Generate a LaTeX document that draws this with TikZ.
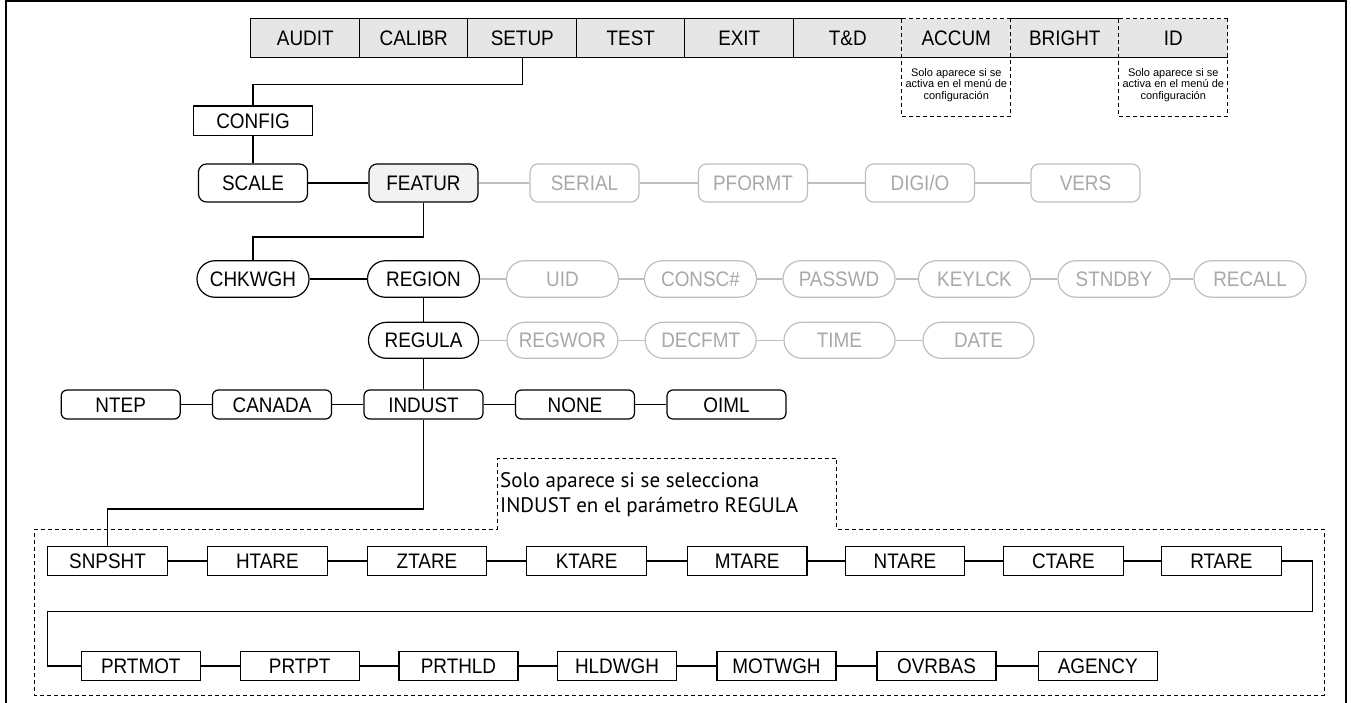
\documentclass[tikz,border=0pt]{standalone}
\usepackage{fontspec}
\setmainfont{Liberation Sans}
\newfontfamily\lblfont{Liberation Sans}[FakeStretch=0.9]
\newfontfamily\notefont{PT Sans}
\usetikzlibrary{calc}
\definecolor{barfill}{HTML}{E6E6E6}
\definecolor{featfill}{HTML}{F2F2F2}
\definecolor{gtext}{HTML}{A8A8A8}
\definecolor{gline}{HTML}{BEBEBE}
\begin{document}
\begin{tikzpicture}[x=1pt,y=-1pt,
  lbl/.style={inner sep=0pt, font=\lblfont\fontsize{21}{24}\selectfont, text height=15pt, text depth=0pt},
  barbox/.style={lbl, fill=barfill, minimum width=108.5pt, minimum height=38pt},
  sq/.style={lbl, draw, line width=1.2pt, fill=white, minimum width=119.5pt, minimum height=29pt},
  rr/.style={lbl, draw, line width=1.2pt, rounded corners=8pt, minimum width=109pt, minimum height=38pt},
  pill/.style={lbl, draw, line width=1.2pt, rounded corners=18pt, minimum width=112pt, minimum height=36.5pt},
  rs/.style={lbl, draw, line width=1.2pt, rounded corners=6pt, minimum width=119pt, minimum height=29pt},
  off/.style={draw=gline, text=gtext},
  thickc/.style={line width=1.8pt},
  thinc/.style={line width=1.2pt},
  grayc/.style={line width=1.5pt, draw=gline},
  dsh/.style={line width=1pt, dash pattern=on 4pt off 3pt},
  notetxt/.style={inner sep=0pt, align=center, font=\fontsize{11}{11.5}\selectfont}
]
\useasboundingbox (0,0) rectangle (1351,703);
% frame
\draw[line width=2pt] (6,703) -- (6,1) -- (1346,1) -- (1346,703);

% top bar
\node[barbox] (audit)  at (305.25,38) {AUDIT};
\node[barbox] (calibr) at (413.75,38) {CALIBR};
\node[barbox] (setup)  at (522.25,38) {SETUP};
\node[barbox] (test)   at (630.75,38) {TEST};
\node[barbox] (exit)   at (739.25,38) {EXIT};
\node[barbox] (tnd)    at (847.75,38) {T\&D};
\node[barbox] (accum)  at (956.25,38) {ACCUM};
\node[barbox] (bright) at (1064.75,38) {BRIGHT};
\node[barbox] (id)     at (1173.25,38) {ID};
\draw[line width=1.2pt] (accum.north west) -- (audit.north west) -- (audit.south west) -- (id.south east);
\draw[line width=1.2pt] (bright.north west) -- (bright.north east);
\foreach \n in {calibr,setup,test,exit,tnd}
  \draw[line width=1.2pt] (\n.north west) -- (\n.south west);
\foreach \n in {accum,id}{
  \draw[dsh] (\n.north west) -- (\n.north east);
  \draw[dsh] (\n.north west) -- (\n.north west |- 0,116.5) -- (\n.north east |- 0,116.5) -- (\n.north east);
}
\node[notetxt] (note1) at (956.25,85) {Solo aparece si se\\activa en el menú de\\configuración};
\node[notetxt] (note2) at (1173.25,85) {Solo aparece si se\\activa en el menú de\\configuración};

% config
\node[sq, minimum height=29.3pt] (config) at (253,120.7) {CONFIG};
\coordinate (j1) at (400,84.3);
\draw[thinc] (setup.south) |- (j1) -| (config.north);

% row 2
\node[rr] (scale)  at (253,183) {SCALE};
\node[rr, fill=featfill] (featur) at (423.5,183) {FEATUR};
\node[rr, off] (serial) at (584.5,183) {SERIAL};
\node[rr, off] (pformt) at (753,183) {PFORMT};
\node[rr, off] (digio)  at (920,183) {DIGI/O};
\node[rr, off] (vers)   at (1085.5,183) {VERS};
\draw[thickc] (config.south) -- (scale.north);
\draw[thickc] (scale) -- (featur);
\draw[grayc] (featur) -- (serial);
\draw[grayc] (serial) -- (pformt);
\draw[grayc] (pformt) -- (digio);
\draw[grayc] (digio) -- (vers);

% row 3
\node[pill] (chkwgh) at (253,279) {CHKWGH};
\node[pill] (region) at (423.5,279) {REGION};
\node[pill, off] (uid)    at (562.5,279) {UID};
\node[pill, off] (consc)  at (700.5,279) {CONSC\#};
\node[pill, off] (passwd) at (839,279) {PASSWD};
\node[pill, off] (keylck) at (974.5,279) {KEYLCK};
\node[pill, off] (stndby) at (1114,279) {STNDBY};
\node[pill, off] (recall) at (1250,279) {RECALL};
\coordinate (j2) at (340,236.7);
\draw[thickc] (featur.south) |- (j2) -| (chkwgh.north);
\draw[thickc] (chkwgh) -- (region);
\draw[grayc] (region) -- (uid);
\draw[grayc] (uid) -- (consc);
\draw[grayc] (consc) -- (passwd);
\draw[grayc] (passwd) -- (keylck);
\draw[grayc] (keylck) -- (stndby);
\draw[grayc] (stndby) -- (recall);

% row 4
\node[pill, minimum width=110pt, minimum height=36pt] (regula) at (423.5,340.3) {REGULA};
\node[pill, off, minimum width=111pt, minimum height=36pt] (regwor) at (562.4,340.3) {REGWOR};
\node[pill, off, minimum width=111pt, minimum height=36pt] (decfmt) at (700.7,340.3) {DECFMT};
\node[pill, off, minimum width=111pt, minimum height=36pt] (time)   at (839.5,340.3) {TIME};
\node[pill, off, minimum width=111pt, minimum height=36pt] (date)   at (978.5,340.3) {DATE};
\draw[thinc] (region) -- (regula);
\draw[grayc] (regula) -- (regwor);
\draw[grayc] (regwor) -- (decfmt);
\draw[grayc] (decfmt) -- (time);
\draw[grayc] (time) -- (date);

% row 5
\node[rs] (ntep)   at (120.7,404.5) {NTEP};
\node[rs] (canada) at (272,404.5) {CANADA};
\node[rs] (indust) at (423.5,404.5) {INDUST};
\node[rs] (none)   at (575,404.5) {NONE};
\node[rs] (oiml)   at (726.5,404.5) {OIML};
\draw[thinc] (regula) -- (indust);
\draw[thickc] (ntep) -- (canada);
\draw[thickc] (canada) -- (indust);
\draw[thickc] (indust) -- (none);
\draw[thickc] (none) -- (oiml);

% dashed region and its label
\draw[dsh] (34.4,529) -- (497,529) -- (497,458.3) -- (836.9,458.3) -- (836.9,529) -- (1324,529) -- (1324,695) -- (34.4,695) -- cycle;
\node[anchor=west, align=left, inner sep=0pt, font=\notefont\fontsize{21}{25}\selectfont] (lbltext) at (500,494.5)
  {Solo aparece si se selecciona\\INDUST en el parámetro REGULA};

% row 6
\node[sq] (snpsht) at (107.5,561) {SNPSHT};
\node[sq] (htare)  at (267.4,561) {HTARE};
\node[sq] (ztare)  at (427,561) {ZTARE};
\node[sq] (ktare)  at (586.6,561) {KTARE};
\node[sq] (mtare)  at (747.2,561) {MTARE};
\node[sq] (ntare)  at (905,561) {NTARE};
\node[sq] (ctare)  at (1063.5,561) {CTARE};
\node[sq] (rtare)  at (1221.4,561) {RTARE};
\coordinate (j3) at (300,509);
\draw[thinc] (indust.south) |- (j3) -| (snpsht.north);
\draw[thinc] (snpsht) -- (htare);
\draw[thinc] (htare) -- (ztare);
\draw[thinc] (ztare) -- (ktare);
\draw[thinc] (ktare) -- (mtare);
\draw[thinc] (mtare) -- (ntare);
\draw[thinc] (ntare) -- (ctare);
\draw[thinc] (ctare) -- (rtare);

% row 7
\node[sq, minimum width=119pt, minimum height=28.5pt] (prtmot) at (140.8,666) {PRTMOT};
\node[sq, minimum width=119pt, minimum height=28.5pt] (prtpt)  at (299.7,666) {PRTPT};
\node[sq, minimum width=119pt, minimum height=28.5pt] (prthld) at (458.5,666) {PRTHLD};
\node[sq, minimum width=119pt, minimum height=28.5pt] (hldwgh) at (617,666) {HLDWGH};
\node[sq, minimum width=119pt, minimum height=28.5pt] (motwgh) at (776.5,666) {MOTWGH};
\node[sq, minimum width=119pt, minimum height=28.5pt] (ovrbas) at (936.5,666) {OVRBAS};
\node[sq, minimum width=119pt, minimum height=28.5pt] (agency) at (1097.7,666) {AGENCY};
\coordinate (t1) at (1312.5,611.3);
\coordinate (t2) at (47.8,611.3);
\draw[thinc] (rtare.east) -| (t1) -- (t2) |- (prtmot.west);
\draw[thinc] (prtmot) -- (prtpt);
\draw[thinc] (prtpt) -- (prthld);
\draw[thinc] (prthld) -- (hldwgh);
\draw[thinc] (hldwgh) -- (motwgh);
\draw[thinc] (motwgh) -- (ovrbas);
\draw[thinc] (ovrbas) -- (agency);
\end{tikzpicture}
\end{document}
